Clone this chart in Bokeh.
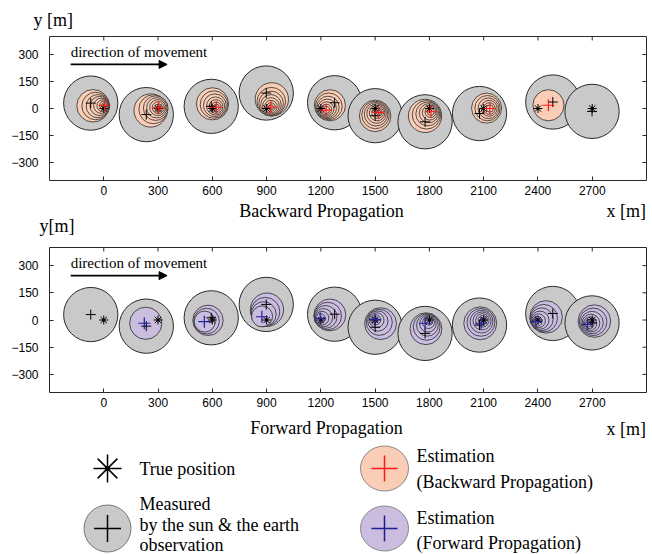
from bokeh.plotting import figure
from bokeh.models import (ColumnDataSource, Range1d, FixedTicker, Label, Title,
                          Arrow, NormalHead)
from bokeh.layouts import column
from bokeh.core.properties import value
from bokeh.embed import file_html
from bokeh.resources import INLINE

# ---------------- data ----------------
x_ticks = [0, 300, 600, 900, 1200, 1500, 1800, 2100, 2400, 2700]
y_ticks = [-300, -150, 0, 150, 300]
y_tick_labels = ["\u2212300", "\u2212150", "0", "150", "300"]
X_MIN, X_MAX, Y_MIN, Y_MAX = -300, 3000, -400, 400

true_x = [0, 300, 600, 900, 1200, 1500, 1800, 2100, 2400, 2700]
true_y = [0, 0, 0, 0, 0, 0, 0, 0, 0, 0]

meas_x = [-72, 235, 594, 898, 1276, 1500, 1776, 2077, 2482, 2699]
meas_y = [30, -34, 12, 86, 32, -40, -74, -28, 36, -16]
meas_r = [150, 150, 150, 150, 150, 150, 150, 150, 150, 150]

# backward propagation: final estimates and shrinking error circles
bw_est_x = [4, 304, 622, 924, 1229, 1518, 1809, 2134, 2458]
bw_est_y = [18, 4, 7, 7, -9, -22, -18, 0, 18]
bw_circ_x = [-59, -45, -33, -23, -14, -6, 0, 3,
             259, 274, 287, 293, 298, 301, 303, 304,
             601, 609, 614, 618, 620, 621, 622,
             929, 926, 925, 924, 924, 924, 924, 924,
             1250, 1244, 1239, 1235, 1232, 1230, 1229,
             1500, 1502, 1505, 1508, 1511, 1514, 1516, 1518,
             1776, 1784, 1791, 1797, 1802, 1806, 1808,
             2116, 2121, 2126, 2130, 2132, 2134,
             2458]
bw_circ_y = [15, 14, 13, 14, 15, 16, 17, 18,
             -11, -4, 2, 4, 5, 5, 4, 4,
             26, 22, 18, 14, 11, 9, 8,
             51, 38, 28, 20, 14, 10, 8, 7,
             18, 12, 6, 1, -3, -6, -8,
             -41, -36, -32, -28, -25, -23, -22, -22,
             -41, -35, -30, -26, -23, -20, -19,
             2, 2, 1, 1, 0, 0,
             18]
bw_circ_r = [90, 76, 64, 53, 42, 32, 23, 14,
             92, 80, 68, 56, 44, 33, 22, 12,
             89, 76, 63, 50, 38, 27, 16,
             92, 79, 68, 57, 46, 35, 24, 14,
             86, 74, 62, 51, 40, 30, 20,
             87, 76, 65, 54, 43, 32, 21, 12,
             92, 79, 66, 53, 41, 30, 19,
             83, 70, 57, 44, 32, 20,
             86]

# forward propagation: final estimates and shrinking error circles
fw_est_x = [224, 556, 874, 1196, 1500, 1776, 2086, 2389, 2674]
fw_est_y = [-18, -9, 18, 9, 2, -18, -18, -9, -24]
fw_circ_x = [232,
             576, 568, 558,
             902, 893, 884, 875,
             1250, 1238, 1226, 1215, 1206, 1198,
             1530, 1523, 1515, 1508, 1503, 1500,
             1781, 1785, 1789, 1792, 1795, 1797,
             2081, 2085, 2088, 2091, 2093, 2095, 2096,
             2445, 2432, 2421, 2411, 2403, 2396, 2391,
             2712, 2705, 2699, 2693, 2688, 2683, 2678]
fw_circ_y = [-18,
             -2, -6, -9,
             57, 45, 32, 20,
             28, 22, 17, 13, 10, 9,
             -20, -13, -6, -1, 1, 2,
             -48, -38, -29, -21, -14, -8,
             -18, -13, -9, -5, -2, 0, 1,
             17, 10, 4, -1, -4, -7, -8,
             -6, -10, -14, -17, -20, -22, -23]
fw_circ_r = [89,
             84, 71, 58,
             92, 80, 69, 58,
             88, 76, 63, 50, 38, 26,
             88, 72, 56, 41, 28, 17,
             88, 74, 60, 46, 33, 21,
             91, 77, 63, 50, 37, 25, 14,
             90, 76, 63, 50, 38, 27, 17,
             90, 76, 62, 49, 37, 26, 16]

# ---------------- style ----------------
GREY = "#c9c9c9"
SALMON = "#f9cdb6"
LAVENDER = "#cabde0"
EDGE = "#2a2a2a"
SERIF = "Liberation Serif"
SANS = "Liberation Sans"
W = 652
BL, BR = 49, 6          # left / right borders (frame spans 49..646)
TICK_DX, TICK_DY = 22, 22  # inward tick length in data units (~4 px)


def make_panel(height, b_top, b_bottom, circ_x, circ_y, circ_r, fill, est_x, est_y, est_color):
    p = figure(width=W, height=height, x_range=Range1d(X_MIN, X_MAX),
               y_range=Range1d(Y_MIN, Y_MAX),
               output_backend="svg", toolbar_location=None,
               min_border_left=BL, min_border_right=BR, min_border_top=b_top,
               min_border_bottom=b_bottom)
    p.xgrid.visible = False
    p.ygrid.visible = False
    p.outline_line_color = EDGE
    p.outline_line_width = 1
    p.background_fill_color = "white"
    p.border_fill_color = "white"

    for ax, ticks in ((p.xaxis[0], x_ticks), (p.yaxis[0], y_ticks)):
        ax.ticker = FixedTicker(ticks=ticks)
        ax.major_tick_in = 4
        ax.major_tick_out = 0
        ax.minor_tick_in = 0
        ax.minor_tick_out = 0
        ax.axis_line_color = None
        ax.major_tick_line_color = EDGE
        ax.major_label_text_font = SANS
        ax.major_label_text_font_size = "12px"
        ax.major_label_text_color = "black"
    p.yaxis[0].major_label_overrides = {t: s for t, s in zip(y_ticks, y_tick_labels)}
    p.yaxis[0].major_label_standoff = 11
    p.xaxis[0].major_label_standoff = 5

    # mirrored inward ticks on the top and right edges of the frame
    p.segment(x0=x_ticks, y0=[Y_MAX] * len(x_ticks), x1=x_ticks,
              y1=[Y_MAX - TICK_DY] * len(x_ticks), line_color=EDGE, line_width=1)
    p.segment(x0=[X_MAX] * len(y_ticks), y0=y_ticks, x1=[X_MAX - TICK_DX] * len(y_ticks),
              y1=y_ticks, line_color=EDGE, line_width=1)

    meas = ColumnDataSource(dict(x=meas_x, y=meas_y, r=meas_r))
    p.circle(x="x", y="y", radius="r", source=meas, fill_color=GREY, line_color=EDGE,
             line_width=1)
    circ = ColumnDataSource(dict(x=circ_x, y=circ_y, r=circ_r))
    p.circle(x="x", y="y", radius="r", source=circ, fill_color=fill, line_color=EDGE,
             line_width=0.8)
    p.scatter(x=meas_x, y=meas_y, marker="cross", size=10, line_color="black", line_width=1)
    p.scatter(x=true_x, y=true_y, marker="asterisk", size=9, line_color="black", line_width=1)
    p.scatter(x=true_x, y=true_y, marker="circle", size=3, fill_color="black", line_color=None)
    p.scatter(x=est_x, y=est_y, marker="cross", size=12, line_color=est_color, line_width=1.2)

    p.add_layout(Label(x=-183, y=314, text="direction of movement", text_font=SERIF,
                       text_font_size="15px", text_baseline="middle", text_align="left",
                       text_color="black"))
    p.add_layout(Arrow(end=NormalHead(size=8, fill_color="black", line_color="black"),
                       x_start=-183, y_start=245, x_end=350, y_end=245,
                       line_width=1.6, line_color="black"))
    return p


def text_figure(height):
    s = figure(width=W, height=height, x_range=Range1d(BL, W - BR), y_range=Range1d(height, 0),
               output_backend="svg", toolbar_location=None,
               min_border_left=BL, min_border_right=BR, min_border_top=0, min_border_bottom=0)
    s.xaxis.visible = False
    s.yaxis.visible = False
    s.grid.visible = False
    s.outline_line_color = None
    return s


def add_texts(s, xs, ys, texts, aligns):
    src = ColumnDataSource(dict(x=xs, y=ys, t=texts, a=aligns))
    s.text(x="x", y="y", text="t", text_align="a", source=src, text_font=value(SERIF),
           text_font_size="18px", text_baseline="middle", text_color="black")


p1 = make_panel(199, 35, 19, bw_circ_x, bw_circ_y, bw_circ_r, SALMON, bw_est_x, bw_est_y, "#ff1a1a")
p1.add_layout(Title(text="y [m]", align="left", offset=-16, standoff=14,
                    text_font=SERIF, text_font_size="18px", text_font_style="normal",
                    text_color="black"), "above")

# strip between the panels: x-axis caption of the upper panel, y caption of the lower one
STRIP_H = 38
strip_b = text_figure(STRIP_H)
add_texts(strip_b, [321, 606], [11, 11], ["Backward Propagation", "x [m]"], ["center", "left"])
ylab = strip_b.yaxis[0]
ylab.visible = True
ylab.ticker = FixedTicker(ticks=[26])
ylab.major_label_overrides = {26: "y[m]"}
ylab.major_label_standoff = -25
ylab.major_tick_in = 0
ylab.major_tick_out = 0
ylab.minor_tick_in = 0
ylab.minor_tick_out = 0
ylab.axis_line_color = None
ylab.major_label_text_font = SERIF
ylab.major_label_text_font_size = "18px"
ylab.major_label_text_color = "black"

p2 = make_panel(175, 10, 20, fw_circ_x, fw_circ_y, fw_circ_r, LAVENDER, fw_est_x, fw_est_y, "#1f1f9a")

# ---------------- bottom strip with axis title and legend ----------------
p3 = text_figure(142)
p3.scatter(x=[107], y=[56], marker="asterisk", size=28, line_color="black", line_width=1.5)
p3.scatter(x=[107], y=[56], marker="circle", size=5, fill_color="black", line_color=None)
p3.ellipse(x=[107], y=[116], width=47, height=47, fill_color=GREY, line_color="#777777", line_width=1)
p3.scatter(x=[107], y=[116], marker="cross", size=27, line_color="black", line_width=1.5)
p3.ellipse(x=[384], y=[56], width=48, height=45, fill_color=SALMON, line_color="#888888", line_width=1)
p3.scatter(x=[384], y=[56], marker="cross", size=26, line_color="#ff1a1a", line_width=1.5)
p3.ellipse(x=[384], y=[116], width=48, height=45, fill_color=LAVENDER, line_color="#888888", line_width=1)
p3.scatter(x=[384], y=[116], marker="cross", size=26, line_color="#1f1f8a", line_width=1.5)

leg_text = ["Forward Propagation", "x [m]",
            "True position", "Measured", "by the sun & the earth", "observation",
            "Estimation", "(Backward Propagation)", "Estimation", "(Forward Propagation)"]
leg_x = [326, 606, 139, 139, 139, 139, 416, 416, 416, 416]
leg_y = [15, 16, 56, 91, 112, 132, 43, 69, 105, 130]
leg_align = ["center", "left"] + ["left"] * 8
add_texts(p3, leg_x, leg_y, leg_text, leg_align)

layout = column(p1, strip_b, p2, p3, spacing=0)
open("out.html", "w").write(file_html(layout, INLINE))
